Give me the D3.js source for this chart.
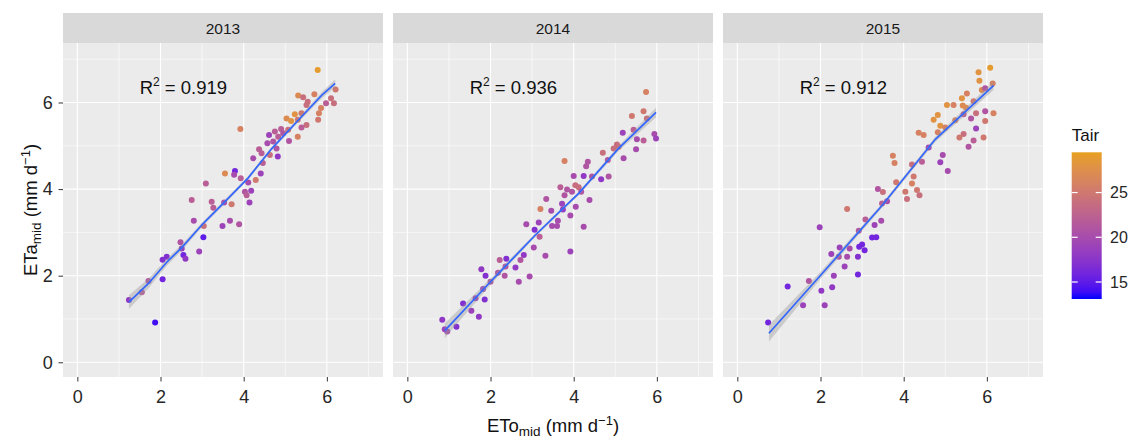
<!DOCTYPE html>
<html>
<head>
<meta charset="utf-8">
<script src="https://cdn.jsdelivr.net/npm/d3@7"></script>
<style>
  body { margin: 0; background: #fff; }
  svg { font-family: "Liberation Sans", Arial, sans-serif; }
</style>
</head>
<body>
<svg id="chart" width="1129" height="438"></svg>
<script>
// Facets and labels
const years = ["2013", "2014", "2015"];
const r2Labels = ["0.919", "0.936", "0.912"];
const axisTicks = [0, 2, 4, 6];
const minorTicks = [1, 3, 5, 7];
const legendTicks = [15, 20, 25];
const tairRange = [13.1, 29.5];
const r2LabelPos = [2.55, 6.36];

// 2013
const eto2013 = [5.78,6.21,5.31,5.43,5.70,5.54,5.51,5.98,6.10,6.17,5.86,5.81,5.39,5.23,5.03,5.14,5.30,5.51,5.39,5.79,3.92,4.61,4.75,4.90,4.95,4.83,5.07,5.30,5.09,4.57,4.71,4.79,4.37,4.43,4.63,4.82,4.23,4.46,3.79,3.55,3.77,4.41,3.93,4.11,4.29,3.09,4.03,4.18,4.07,4.14,2.75,3.23,3.53,3.71,3.27,2.80,3.49,3.67,3.89,3.04,3.03,2.48,2.93,2.51,2.15,2.55,2.60,2.05,2.05,1.71,1.55,1.24,1.87];
const eta2013 = [6.75,6.30,6.16,6.12,6.19,6.02,5.94,5.98,6.10,5.98,5.87,5.75,5.75,5.73,5.63,5.57,5.60,5.48,5.42,5.60,5.39,5.25,5.33,5.39,5.29,5.21,5.37,5.21,5.11,5.06,5.10,4.94,4.92,4.83,4.79,4.75,4.71,4.60,4.42,4.36,4.33,4.36,4.25,4.15,4.21,4.13,3.94,3.96,3.86,3.69,3.75,3.71,3.69,3.65,3.57,3.27,3.15,3.27,3.19,3.15,2.89,2.77,2.56,2.63,2.44,2.48,2.39,2.37,1.92,1.88,1.62,1.44,0.92];
const tair2013 = [29,25,27,24,26,24,24,22,24,24,26,26,25,28,27,28,25,24,22,25,26,19,22,22,21,22,24,26,21,20,21,21,22,22,24,18,20,22,16,27,20,19,22,20,25,22,21,19,22,19,22,22,20,25,22,20,19,20,21,24,15,21,19,18,17,16,18,17,16,21,22,18,14];

// 2014
const eto2014 = [5.74,5.68,5.40,5.76,5.44,5.18,5.52,5.68,5.94,5.98,5.04,4.96,5.08,4.70,4.82,5.20,5.50,3.78,4.34,4.30,4.00,4.24,4.44,4.66,4.84,3.68,3.84,3.78,4.04,4.12,4.18,3.96,3.34,4.38,3.20,3.46,3.72,3.74,4.05,3.92,3.62,3.48,3.60,3.16,2.86,4.24,3.06,3.18,3.04,3.32,3.92,2.80,2.72,2.22,2.38,2.60,2.36,2.18,1.78,1.88,2.34,2.00,2.68,2.94,1.82,1.64,1.86,1.34,1.54,1.72,0.84,0.96,1.18,0.90];
const eta2014 = [6.24,5.80,5.69,5.63,5.37,5.30,5.15,5.12,5.27,5.17,5.03,4.94,4.98,4.84,4.67,4.71,4.92,4.65,4.63,4.53,4.30,4.30,4.29,4.23,4.29,4.04,3.99,3.86,4.09,4.04,3.94,3.94,3.77,3.75,3.54,3.50,3.66,3.53,3.59,3.39,3.27,3.15,3.15,3.23,3.19,3.13,3.06,2.90,2.65,2.46,2.56,2.48,2.36,2.36,2.39,2.19,2.21,2.07,2.15,2.00,2.00,1.86,1.86,1.98,1.69,1.48,1.45,1.36,1.19,1.05,0.98,0.71,0.82,0.76];
const tair2014 = [26,25,25,24,22,19,20,22,20,19,24,24,24,24,21,20,20,26,21,21,20,18,21,18,21,22,21,21,24,24,21,21,21,20,26,20,19,18,20,20,20,20,20,19,20,20,17,22,20,20,19,18,21,22,17,18,21,21,18,17,21,21,20,20,19,19,17,17,19,18,18,20,17,19];

// 2015
const eto2015 = [6.08,5.80,5.82,6.14,5.88,5.96,5.52,5.40,5.68,5.04,5.20,5.42,5.50,5.96,5.74,6.16,5.44,5.62,5.96,5.24,4.82,4.72,4.88,5.00,4.82,5.74,5.44,5.34,5.68,5.92,5.56,4.36,4.48,4.60,4.94,4.88,5.06,3.74,3.78,4.20,4.44,4.24,3.82,4.20,3.38,3.50,4.04,4.08,4.32,4.38,3.48,3.60,2.64,3.08,3.46,3.30,1.98,2.92,3.24,3.34,3.00,3.06,2.93,2.46,2.70,2.26,2.44,2.64,2.90,2.58,2.32,2.90,1.72,2.02,2.28,1.21,1.58,2.10,0.74];
const eta2015 = [6.80,6.70,6.50,6.44,6.29,6.33,6.21,6.10,6.03,5.94,5.94,5.93,5.88,5.80,5.75,5.75,5.73,5.63,5.57,5.59,5.71,5.60,5.46,5.42,5.31,5.40,5.27,5.19,5.12,5.19,4.98,5.30,5.25,4.96,4.79,4.62,4.42,4.77,4.60,4.57,4.63,4.29,4.16,4.13,4.00,3.93,3.94,3.77,3.98,3.86,3.67,3.72,3.54,3.30,3.27,3.17,3.12,3.04,2.88,2.89,2.72,2.59,2.67,2.65,2.63,2.50,2.44,2.44,2.44,2.21,2.00,2.03,1.88,1.65,1.73,1.75,1.32,1.32,0.92];
const tair2015 = [29,28,28,26,27,21,26,28,25,28,26,27,27,21,24,26,22,21,25,26,28,28,28,26,26,19,24,25,22,25,21,26,26,19,20,19,20,26,26,24,22,25,25,26,21,24,25,24,25,24,22,20,25,22,20,19,19,21,16,16,16,16,16,19,20,19,21,20,17,19,19,16,21,18,18,16,19,19,16];

// smooth line (x, fitted y, half width of the band)
const fitX2013 = [1.24,1.71,2.15,2.51,3.03,3.55,4.11,4.67,5.39,5.88,6.20];
const fitY2013 = [1.39,1.82,2.31,2.65,3.21,3.71,4.26,4.93,5.67,6.17,6.44];
const fitBand2013 = [0.16,0.11,0.08,0.07,0.05,0.05,0.04,0.04,0.05,0.07,0.09];
const fitX2014 = [0.90,2.04,3.08,4.12,5.08,5.98];
const fitY2014 = [0.73,1.90,2.94,3.90,4.94,5.77];
const fitBand2014 = [0.17,0.07,0.04,0.04,0.06,0.11];
const fitX2015 = [0.76,2.04,3.48,4.76,6.16];
const fitY2015 = [0.67,2.05,3.62,5.15,6.39];
const fitBand2015 = [0.19,0.08,0.05,0.06,0.10];

const etoAll = [eto2013, eto2014, eto2015];
const etaAll = [eta2013, eta2014, eta2015];
const tairAll = [tair2013, tair2014, tair2015];
const fitXAll = [fitX2013, fitX2014, fitX2015];
const fitYAll = [fitY2013, fitY2014, fitY2015];
const fitBandAll = [fitBand2013, fitBand2014, fitBand2015];

const panels = years.map((yr, i) => ({
  year: yr,
  r2: r2Labels[i],
  points: etoAll[i].map((v, j) => ({ eto: v, eta: etaAll[i][j], tair: tairAll[i][j] })),
  fit: fitXAll[i].map((v, j) => ({ x: v, y: fitYAll[i][j], band: fitBandAll[i][j] })),
}));

// Layout
const svg = d3.select("#chart");
const fontStack = '"Liberation Sans", Arial, sans-serif';
const panelW = 320, panelH = 334, stripH = 30, gap = 10;
const plotLeft = 63, plotTop = 13;

const x = d3.scaleLinear().domain([-0.345, 7.35]).range([0, panelW]);
const y = d3.scaleLinear().domain([-0.34, 7.374]).range([panelH, 0]);
const colour = d3.scaleLinear().domain(tairRange).range(["#0000ff", "#e8a020"]).interpolate(d3.interpolateLab);

panels.forEach((p, i) => {
  const g = svg.append("g")
    .attr("transform", `translate(${plotLeft + i * (panelW + gap)},${plotTop})`);

  // strip
  g.append("rect").attr("width", panelW).attr("height", stripH).attr("fill", "#d9d9d9");
  g.append("text")
    .attr("x", panelW / 2).attr("y", stripH / 2 + 5.5)
    .attr("text-anchor", "middle").attr("font-size", 15.5).attr("fill", "#1a1a1a")
    .text(p.year);

  const plot = g.append("g").attr("transform", `translate(0,${stripH})`);
  plot.append("rect").attr("width", panelW).attr("height", panelH).attr("fill", "#ebebeb");

  // grid
  const grid = plot.append("g").attr("stroke", "#fff");
  [[minorTicks, 0.6], [axisTicks, 1.1]].forEach(([ticks, w]) => {
    grid.selectAll(null).data(ticks).join("line")
      .attr("x1", (d) => x(d)).attr("x2", (d) => x(d))
      .attr("y1", 0).attr("y2", panelH).attr("stroke-width", w);
    grid.selectAll(null).data(ticks).join("line")
      .attr("y1", (d) => y(d)).attr("y2", (d) => y(d))
      .attr("x1", 0).attr("x2", panelW).attr("stroke-width", w);
  });

  // x axis
  const xAxis = plot.append("g")
    .attr("transform", `translate(0,${panelH})`)
    .call(d3.axisBottom(x).tickValues(axisTicks).tickSize(4.5).tickPadding(9).tickFormat(d3.format("d")))
    .attr("font-family", fontStack);
  xAxis.select(".domain").remove();
  xAxis.selectAll("line").attr("stroke", "#333");
  xAxis.selectAll("text").attr("font-size", 18).attr("fill", "#262626");

  if (i === 0) {
    const yAxis = plot.append("g")
      .call(d3.axisLeft(y).tickValues(axisTicks).tickSize(4.5).tickPadding(5.8).tickFormat(d3.format("d")))
      .attr("font-family", fontStack);
    yAxis.select(".domain").remove();
    yAxis.selectAll("line").attr("stroke", "#333");
    yAxis.selectAll("text").attr("font-size", 18).attr("fill", "#262626");
  }

  // points
  plot.append("g").selectAll("circle")
    .data(p.points)
    .join("circle")
    .attr("cx", (d) => x(d.eto))
    .attr("cy", (d) => y(d.eta))
    .attr("r", 3)
    .attr("fill", (d) => colour(d.tair));

  // smooth band + line
  const band = d3.area()
    .x((d) => x(d.x))
    .y0((d) => y(d.y - d.band))
    .y1((d) => y(d.y + d.band));
  plot.append("path").datum(p.fit).attr("d", band).attr("fill", "#999").attr("fill-opacity", 0.4);

  const line = d3.line().x((d) => x(d.x)).y((d) => y(d.y));
  plot.append("path").datum(p.fit).attr("d", line)
    .attr("fill", "none").attr("stroke", "#3366ff").attr("stroke-width", 1.7);

  // R2 label
  plot.append("text")
    .attr("x", x(r2LabelPos[0])).attr("y", y(r2LabelPos[1]) + 6.7)
    .attr("text-anchor", "middle").attr("font-size", 18.5).attr("fill", "#111")
    .call((t) => {
      t.append("tspan").text("R");
      t.append("tspan").attr("dy", -8).attr("font-size", 12).text("2");
      t.append("tspan").attr("dy", 8).text(" = " + p.r2);
    });
});

// axis titles
function titleParts(t, main) {
  t.append("tspan").text(main);
  t.append("tspan").attr("dy", 4).attr("font-size", 13.5).text("mid");
  t.append("tspan").attr("dy", -4).text(" (mm d");
  t.append("tspan").attr("dy", -7).attr("font-size", 13).text("\u22121");
  t.append("tspan").attr("dy", 7).text(")");
}

svg.append("text")
  .attr("x", plotLeft + (3 * panelW + 2 * gap) / 2).attr("y", 432)
  .attr("text-anchor", "middle").attr("font-size", 18.5).attr("fill", "#111")
  .call((t) => titleParts(t, "ETo"));

svg.append("text")
  .attr("transform", `translate(37.3,${plotTop + stripH + panelH / 2}) rotate(-90)`)
  .attr("text-anchor", "middle").attr("font-size", 18.5).attr("fill", "#111")
  .call((t) => titleParts(t, "ETa"));

// legend
const legend = svg.append("g").attr("transform", "translate(1071.7,0)");
const ly = d3.scaleLinear().domain(tairRange).range([299, 152.3]);
const grad = svg.append("defs").append("linearGradient")
  .attr("id", "tairGrad").attr("x1", 0).attr("y1", 1).attr("x2", 0).attr("y2", 0);
grad.selectAll("stop").data(d3.range(0, 1.0001, 0.05)).join("stop")
  .attr("offset", (d) => d)
  .attr("stop-color", (d) => colour(tairRange[0] + d * (tairRange[1] - tairRange[0])));

legend.append("text").attr("x", 0).attr("y", 140.7)
  .attr("font-size", 17).attr("fill", "#111").text("Tair");
legend.append("rect")
  .attr("x", 0).attr("y", ly(tairRange[1]))
  .attr("width", 30).attr("height", ly(tairRange[0]) - ly(tairRange[1]))
  .attr("fill", "url(#tairGrad)");
legendTicks.forEach((t) => {
  legend.append("line").attr("x1", 0).attr("x2", 6).attr("y1", ly(t)).attr("y2", ly(t))
    .attr("stroke", "#fff").attr("stroke-width", 1.2);
  legend.append("line").attr("x1", 24).attr("x2", 30).attr("y1", ly(t)).attr("y2", ly(t))
    .attr("stroke", "#fff").attr("stroke-width", 1.2);
  legend.append("text").attr("x", 38.3).attr("y", ly(t)).attr("dy", "0.36em")
    .attr("font-size", 16).attr("fill", "#262626").text(t);
});
</script>
</body>
</html>
